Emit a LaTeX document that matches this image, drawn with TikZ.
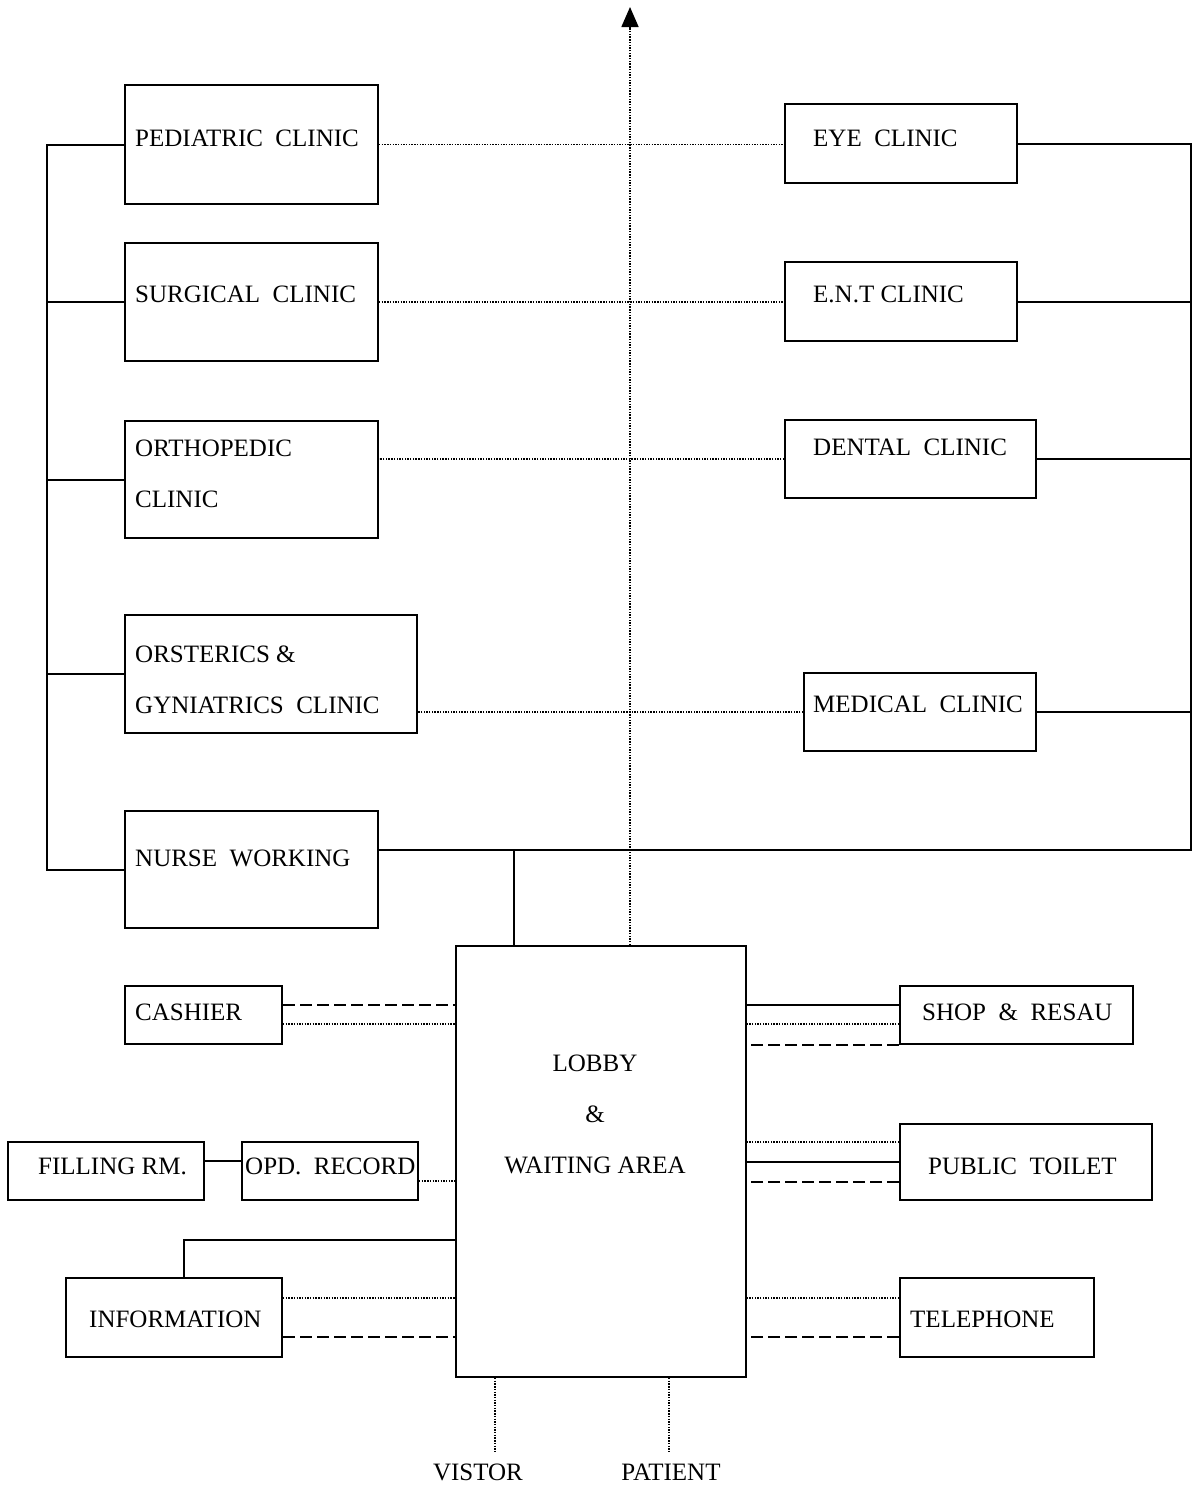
\documentclass[tikz,border=0pt]{standalone}
\usepackage{fontspec}
\setmainfont{Liberation Serif}
\usetikzlibrary{arrows.meta,calc}
\tikzset{
  roombox/.style={draw, line width=2pt, inner sep=0pt},
  lbl/.style={inner sep=0pt, font=\fontsize{25}{51}\selectfont, align=left},
  solidline/.style={line width=2pt},
  dotline/.style={line width=1.6pt, dash pattern=on 1.4pt off 1.3pt},
  dashline/.style={line width=2pt, dash pattern=on 12pt off 5pt},
}
\begin{document}
\begin{tikzpicture}[x=1pt,y=-1pt]
\useasboundingbox[fill=white] (0,0) rectangle (1194,1486);

% ---------- left clinics ----------
\node[roombox, minimum width=253pt, minimum height=119pt] (ped) at (251.5,144.5) {};
\node[roombox, minimum width=253pt, minimum height=118pt] (surg) at (251.5,302) {};
\node[roombox, minimum width=253pt, minimum height=117pt] (ortho) at (251.5,479.5) {};
\node[roombox, minimum width=292pt, minimum height=118pt] (obs) at (271,674) {};
\node[roombox, minimum width=253pt, minimum height=117pt] (nurse) at (251.5,869.5) {};

\node[lbl, anchor=west] (ped-t) at (135,138) {PEDIATRIC\ \ CLINIC};
\node[lbl, anchor=west] (surg-t) at (135,294) {SURGICAL\ \ CLINIC};
\node[lbl, anchor=west] (ortho-t) at (135,473.5) {ORTHOPEDIC\\CLINIC};
\node[lbl, anchor=west] (obs-t) at (135,679.5) {ORSTERICS \&\\GYNIATRICS\ \ CLINIC};
\node[lbl, anchor=west] (nurse-t) at (135,858) {NURSE\ \ WORKING};

% ---------- right clinics ----------
\node[roombox, minimum width=232pt, minimum height=79pt] (eye) at (901,143.5) {};
\node[roombox, minimum width=232pt, minimum height=79pt] (ent) at (901,301.5) {};
\node[roombox, minimum width=251pt, minimum height=78pt] (dental) at (910.5,459) {};
\node[roombox, minimum width=232pt, minimum height=78pt] (medical) at (920,712) {};

\node[lbl, anchor=west] (eye-t) at (813,138) {EYE\ \ CLINIC};
\node[lbl, anchor=west] (ent-t) at (813,294) {E.N.T CLINIC};
\node[lbl, anchor=west] (dental-t) at (813,447) {DENTAL\ \ CLINIC};
\node[lbl, anchor=west] (medical-t) at (813,704) {MEDICAL\ \ CLINIC};

% ---------- lobby ----------
\node[roombox, minimum width=290pt, minimum height=431pt] (lobby) at (601,1161.5) {};
\node[lbl, align=center] (lobby-t) at (595,1114.5) {LOBBY\\\&\\WAITING AREA};

% ---------- lower rooms ----------
\node[roombox, minimum width=157pt, minimum height=58pt] (cashier) at (203.5,1015) {};
\node[lbl, anchor=west] (cashier-t) at (135,1012) {CASHIER};
\node[roombox, minimum width=233pt, minimum height=58pt] (shop) at (1016.5,1015) {};
\node[lbl, anchor=west] (shop-t) at (922,1012) {SHOP\ \ \&\ \ RESAU};
\node[roombox, minimum width=196pt, minimum height=58pt] (filling) at (106,1171) {};
\node[lbl, anchor=west] (filling-t) at (38,1166) {FILLING RM.};
\node[roombox, minimum width=176pt, minimum height=58pt] (opd) at (330,1171) {};
\node[lbl, anchor=west] (opd-t) at (245,1166) {OPD.\ \ RECORD};
\node[roombox, minimum width=252pt, minimum height=76pt] (toilet) at (1026,1162) {};
\node[lbl, anchor=west] (toilet-t) at (928,1166) {PUBLIC\ \ TOILET};
\node[roombox, minimum width=216pt, minimum height=79pt] (info) at (174,1317.5) {};
\node[lbl, anchor=west] (info-t) at (89,1319) {INFORMATION};
\node[roombox, minimum width=194pt, minimum height=79pt] (tel) at (997,1317.5) {};
\node[lbl, anchor=west] (tel-t) at (910,1319) {TELEPHONE};

\node[lbl] (vistor) at (478,1472) {VISTOR};
\node[lbl] (patient) at (671,1472) {PATIENT};

% ---------- buses ----------
\coordinate (lbus) at (47,0);
\coordinate (rbus) at (1191,0);
\draw[solidline] (ped.west) -| (lbus |- nurse.west) -- (nurse.west);
\draw[solidline] (surg.west) -- (surg.west -| lbus);
\draw[solidline] (ortho.west) -- (ortho.west -| lbus);
\draw[solidline] (obs.west) -- (obs.west -| lbus);

\draw[solidline] ([yshift=19.5pt]nurse.east) -| (rbus |- eye.east) -- (eye.east);
\draw[solidline] (ent.east) -- (ent.east -| rbus);
\draw[solidline] (dental.east) -- (dental.east -| rbus);
\draw[solidline] (medical.east) -- (medical.east -| rbus);

\draw[solidline] ([xshift=-87pt]lobby.north) -- ++(0,-96);

% dotted cross links
\draw[dotline] (ped.east) -- (ped.east -| eye.west);
\draw[dotline] (surg.east) -- (surg.east -| ent.west);
\draw[dotline] (dental.west) -- (dental.west -| ortho.east);
\draw[dotline] (medical.west) -- (medical.west -| obs.east);

% main arrow
\draw[dotline, -{Triangle[width=17pt,length=20pt]}] ([xshift=29pt]lobby.north) -- ++(0,-938);

% ---------- lower links ----------
\draw[dashline] ([yshift=10pt]cashier.east) -- ([yshift=10pt]cashier.east -| lobby.west);
\draw[dotline] ([yshift=-9pt]cashier.east) -- ([yshift=-9pt]cashier.east -| lobby.west);

\draw[solidline] ([yshift=10pt]shop.west) -- ([yshift=10pt]shop.west -| lobby.east);
\draw[dotline] ([yshift=-9pt]shop.west) -- ([yshift=-9pt]shop.west -| lobby.east);
\draw[dashline] (shop.south west) -- (shop.south west -| lobby.east);

\draw[solidline] ([yshift=10pt]filling.east) -- ([yshift=10pt]opd.west);
\draw[dotline] ([yshift=-10pt]opd.east) -- ([yshift=-10pt]opd.east -| lobby.west);

\draw[dotline] ([yshift=20pt]toilet.west) -- ([yshift=20pt]toilet.west -| lobby.east);
\draw[solidline] (toilet.west) -- (toilet.west -| lobby.east);
\draw[dashline] ([yshift=-20pt]toilet.west) -- ([yshift=-20pt]toilet.west -| lobby.east);

\draw[solidline] ([xshift=10pt]info.north) |- ([yshift=-78.5pt]lobby.west);
\draw[dotline] ([yshift=19.5pt]info.east) -- ([yshift=19.5pt]info.east -| lobby.west);
\draw[dashline] ([yshift=-19.5pt]info.east) -- ([yshift=-19.5pt]info.east -| lobby.west);

\draw[dotline] ([yshift=19.5pt]tel.west) -- ([yshift=19.5pt]tel.west -| lobby.east);
\draw[dashline] ([yshift=-19.5pt]tel.west) -- ([yshift=-19.5pt]tel.west -| lobby.east);

% entrances
\draw[dotline] ([xshift=-106pt]lobby.south) -- ++(0,73);
\draw[dotline] ([xshift=68pt]lobby.south) -- ++(0,73);
\end{tikzpicture}
\end{document}
